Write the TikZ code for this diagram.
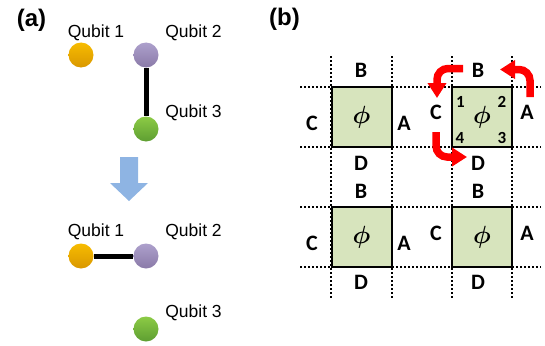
\documentclass[tikz,border=0pt]{standalone}
\usepackage{fontspec}
\usepackage{bm}
\setmainfont{Liberation Sans}
\newfontfamily\calib{Carlito}
\usetikzlibrary{arrows.meta}
\definecolor{goldA}{HTML}{F7BC00}
\definecolor{goldB}{HTML}{D99700}
\definecolor{purpA}{HTML}{ADA0CC}
\definecolor{purpB}{HTML}{8A7AA8}
\definecolor{greenA}{HTML}{8CCB45}
\definecolor{greenB}{HTML}{5E9E32}
\definecolor{arrowblue}{HTML}{8EB4E3}
\definecolor{cellgreen}{HTML}{D7E4BD}
\definecolor{rotred}{HTML}{FF0000}
\begin{document}
\begin{tikzpicture}[x=1pt,y=-1pt]
\useasboundingbox (0,0) rectangle (545,345);
\tikzset{
 qubit/.style={circle, minimum size=25pt, inner sep=0pt, shading angle=45},
 qgold/.style={qubit, top color=goldA, bottom color=goldB},
 qpurp/.style={qubit, top color=purpA, bottom color=purpB},
 qgreen/.style={qubit, top color=greenA, bottom color=greenB},
 qlabel/.style={font=\fontsize{17.5}{17.5}\selectfont, inner sep=0pt},
 panel/.style={font=\bfseries\fontsize{24}{24}\selectfont, inner sep=0pt},
 coupling/.style={line width=5pt},
 side/.style={font=\calib\bfseries\fontsize{22}{22}\selectfont, inner sep=0pt},
 num/.style={font=\calib\bfseries\fontsize{17}{17}\selectfont, inner sep=0pt},
 cell/.style={draw, line width=2pt, fill=cellgreen, minimum size=60pt, inner sep=0pt, font=\fontsize{30}{30}\selectfont},
 gridline/.style={line width=1.6pt, dash pattern=on 1.6pt off 2.4pt},
 rot/.style={rotred, line width=7.5pt, rounded corners=11pt, -{Triangle[length=15pt,width=18pt]}},
}
% panel labels
\node[panel] (pa) at (31.5,20) {(a)};
\node[panel] (pb) at (284.5,19) {(b)};

% ---- panel (a), before
\node[qgold] (a1) at (81,55) {};
\node[qpurp] (a2) at (146,55) {};
\node[qgreen] (a3) at (146,129) {};
\draw[coupling] (a2) -- (a3);
\node[qlabel] (la1) at (96,33) {Qubit 1};
\node[qlabel] (la2) at (193.5,33) {Qubit 2};
\node[qlabel] (la3) at (193.5,113) {Qubit 3};

% blue arrow
\fill[arrowblue] (120,157) -- (138,157) -- (138,183) -- (148,183) -- (129,201) -- (110,183) -- (120,183) -- cycle;

% ---- panel (a), after
\node[qgold] (b1) at (81,256) {};
\node[qpurp] (b2) at (146,256) {};
\node[qgreen] (b3) at (146,329) {};
\draw[coupling] (b1) -- (b2);
\node[qlabel] (lb1) at (96,232) {Qubit 1};
\node[qlabel] (lb2) at (193.5,232) {Qubit 2};
\node[qlabel] (lb3) at (193.5,313) {Qubit 3};

% ---- panel (b) grid
\foreach \yy in {87,147,207,267} \draw[gridline] (300,\yy) -- (541,\yy);
\foreach \xx in {331,392,452,512} \draw[gridline] (\xx,56) -- (\xx,298);

\node[cell] (s1) at (361.5,117) {$\bm\phi$};
\node[cell] (s2) at (482,117) {$\bm\phi$};
\node[cell] (s3) at (361.5,237) {$\bm\phi$};
\node[cell] (s4) at (482,237) {$\bm\phi$};

% side labels
\node[side] (s1B) at (361,70) {B};
\node[side] (s1C) at (312,123) {C};
\node[side] (s1A) at (404,123) {A};
\node[side] (s1D) at (361,163) {D};

\node[side] (s2B) at (478,70) {B};
\node[side] (s2C) at (436,112) {C};
\node[side] (s2A) at (527,112) {A};
\node[side] (s2D) at (478,163) {D};

\node[side] (s3B) at (361,191) {B};
\node[side] (s3C) at (312,243) {C};
\node[side] (s3A) at (404,243) {A};
\node[side] (s3D) at (361,282) {D};

\node[side] (s4B) at (478,191) {B};
\node[side] (s4C) at (436,233) {C};
\node[side] (s4A) at (527,233) {A};
\node[side] (s4D) at (478,282) {D};

% corner numbers
\node[num] (n1) at (460.5,102) {1};
\node[num] (n2) at (502,102) {2};
\node[num] (n3) at (502,138) {3};
\node[num] (n4) at (460,138) {4};

% red rotation arrows
\coordinate (r1s) at (463,68.5);
\coordinate (r1e) at (437,98);
\coordinate (r2s) at (530,97);
\coordinate (r2e) at (500,69.5);
\coordinate (r3s) at (436,132);
\coordinate (r3e) at (467,157);
\draw[rot] (r1s) -| (r1e);
\draw[rot] (r2s) |- (r2e);
\draw[rot] (r3s) |- (r3e);
\end{tikzpicture}
\end{document}
